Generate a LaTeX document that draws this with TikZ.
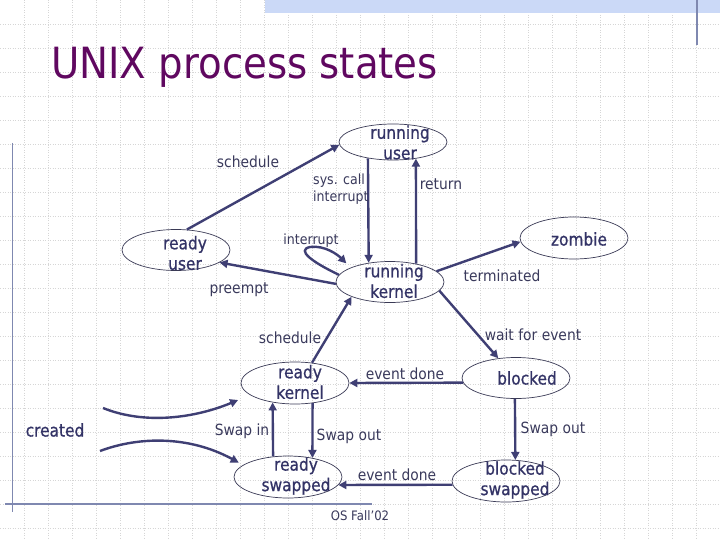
\documentclass[tikz,border=0pt]{standalone}
\usepackage{fontspec}
\setmainfont{DejaVu Sans}[FakeStretch=0.9]
\newfontfamily\nodefont{DejaVu Sans}[FakeStretch=0.88,FakeBold=0.8]
\usetikzlibrary{arrows.meta,calc,shapes.geometric}
\definecolor{gridc}{HTML}{D6D6D6}
\definecolor{bandc}{HTML}{CBD9F7}
\definecolor{rulec}{HTML}{7F88B0}
\definecolor{titlec}{HTML}{600860}
\definecolor{arrc}{HTML}{3F3F74}
\definecolor{nodetxt}{HTML}{333366}
\definecolor{lbltxt}{HTML}{3A3A5C}
\definecolor{ellc}{HTML}{3A3A55}
\tikzset{
  gridline/.style={draw=gridc, line width=0.8pt, dash pattern=on 1pt off 1.5pt},
  stbox/.style={ellipse, draw=ellc, line width=0.7pt, minimum width=108pt, minimum height=41pt, inner sep=0pt},
  sttext/.style={font=\nodefont\fontsize{17.5}{20.5}\selectfont, text=nodetxt, align=center, inner sep=0pt},
  elabel/.style={font=\fontsize{15.4}{17}\selectfont, text=lbltxt, inner sep=0pt},
  nlabel/.style={elabel, font=\fontsize{14}{16.5}\selectfont},
  arr/.style={draw=arrc, line width=2.4pt, -{Triangle[length=8pt,width=8pt]}},
}
\begin{document}
\begin{tikzpicture}[x=1pt,y=-1pt]
\useasboundingbox (0,0) rectangle (720,540);
\fill[white] (0,0) rectangle (720,540);
% background grid
\foreach \x in {24,48,...,696} \draw[gridline] (\x,0) -- (\x,540);
\foreach \y in {24,48,...,528} \draw[gridline] (0,\y) -- (720,\y);
% slide decorations
\fill[bandc] (265,0) rectangle (720,12.7);
\draw[rulec, line width=1.2pt] (697,0) -- (697,45);
\draw[rulec, line width=1.2pt] (12.5,143) -- (12.5,512);
\draw[rulec, line width=1.2pt] (5,504) -- (372,504);
% title
\node[anchor=base west, inner sep=0pt, text=titlec, font=\fontsize{43}{43}\selectfont] (title) at (51,79) {UNIX process states};
% states
\node[stbox, minimum height=36pt, label={[sttext, xshift=7pt, yshift=-0.5pt]center:{running\\user}}] (ru) at (393,142) {};
\node[stbox, label={[sttext, xshift=9pt, yshift=-3pt]center:{ready\\user}}] (rus) at (176,250) {};
\node[stbox, label={[sttext, xshift=4pt, yshift=1pt]center:{running\\kernel}}] (rk) at (390,282) {};
\node[stbox, minimum height=42pt, label={[sttext, xshift=5pt, yshift=-1pt]center:{zombie}}] (zb) at (574,238) {};
\node[stbox, minimum height=42pt, label={[sttext, xshift=5pt, yshift=1pt]center:{ready\\kernel}}] (rdk) at (295,383) {};
\node[stbox, label={[sttext, xshift=11pt, yshift=0pt]center:{blocked}}] (bl) at (516,378) {};
\node[stbox, minimum height=42pt, label={[sttext, xshift=8pt, yshift=1pt]center:{ready\\swapped}}] (rs) at (288,477) {};
\node[stbox, minimum height=42pt, label={[sttext, xshift=9pt, yshift=1pt]center:{blocked\\swapped}}] (bs) at (506,481) {};
\node[sttext] (cr) at (55,430) {created};
\coordinate (c1) at (103,408);
\coordinate (c2) at (100,451);
% transitions
\draw[arr] (rus.62) -- (ru.183);
\draw[arr] (ru.213.9) -- (rk.138.8);
\draw[arr] (rk.35.3) -- (ru.-36.7);
\draw[arr, shorten >=6pt] (rk.172) .. controls (312,262) and (296,250) .. (310,247) .. controls (325,245) and (338,255) .. (rk.160);
\draw[arr] (rk.182) -- (rus.-16);
\draw[arr] (rk.13) -- (zb.184);
\draw[arr] (rk.-10) -- (bl.132);
\draw[arr] (rdk.50) -- (rk.201.5);
\draw[arr] (bl.185.5) -- (rdk.east);
\draw[arr] (rdk.-49.5) -- (rs.38);
\draw[arr] (rs.126.6) -- (rdk.221);
\draw[arr] (bl.267) -- (bs.66.5);
\draw[arr] (bs.184) -- (rs.-9);
\draw[arr, shorten >=13pt] (c1) .. controls (145,425) and (195,418) .. (rdk.195);
\draw[arr, shorten >=5pt] (c2) .. controls (140,436) and (190,436) .. (rs.165);
% transition labels
\node[elabel] (l1) at (248,162) {schedule};
\node[nlabel, anchor=west, align=left] (l2) at (313,189) {sys. call\\interrupt};
\node[elabel] (l3) at (441,184) {return};
\node[nlabel] (l4) at (311,241) {interrupt};
\node[elabel] (l5) at (239,290) {preempt};
\node[elabel] (l6) at (502,276) {terminated};
\node[elabel] (l7) at (533,335) {wait for event};
\node[elabel] (l8) at (290,338) {schedule};
\node[elabel] (l9) at (405,374) {event done};
\node[elabel] (l10) at (349,436) {Swap out};
\node[elabel] (l11) at (242,431) {Swap in};
\node[elabel] (l12) at (553,429) {Swap out};
\node[elabel] (l13) at (397,475) {event done};
\node[elabel, font=\fontsize{13}{14}\selectfont] (foot) at (360,516) {OS Fall’02};
\end{tikzpicture}
\end{document}
